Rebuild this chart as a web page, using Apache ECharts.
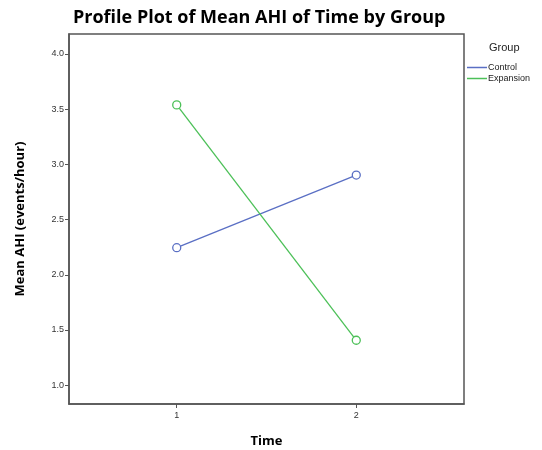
<!DOCTYPE html>
<html>
<head>
<meta charset="utf-8">
<script src="https://cdn.jsdelivr.net/npm/echarts@6/dist/echarts.min.js"></script>
<style>html,body{margin:0;padding:0;background:#fff}#c{width:542px;height:450px}</style>
</head>
<body>
<div id="c"></div>
<script>
// Mean AHI by time point, one line per group
const timePoints = [1, 2];
const groups = ['Control', 'Expansion'];
const controlMeans = [2.245, 2.903];
const expansionMeans = [3.538, 1.407];
const yTicks = [1.0, 1.5, 2.0, 2.5, 3.0, 3.5, 4.0];
const colors = ['#5a6fc4', '#4cc058'];

const chart = echarts.init(document.getElementById('c'));
const seriesData = [controlMeans, expansionMeans];

chart.setOption({
  animation: false,
  title: [
    {
      text: 'Profile Plot of Mean AHI of Time by Group',
      left: 68, top: 4,
      textStyle: { fontFamily: 'Open Sans', fontWeight: 'bold', fontSize: 18, color: '#000' }
    },
    {
      text: 'Group',
      left: 484, top: 37,
      textStyle: { fontFamily: 'Liberation Sans', fontWeight: 'normal', fontSize: 11, color: '#222' }
    }
  ],
  legend: {
    data: groups.map((g, i) => ({
      name: g, icon: 'rect',
      itemStyle: { color: colors[i], borderWidth: 0 }
    })),
    orient: 'vertical',
    left: 462, top: 58,
    itemWidth: 20, itemHeight: 1.5, itemGap: 2,
    textStyle: { fontFamily: 'Liberation Sans', fontSize: 9, color: '#222', padding: [0, 0, 0, -4] }
  },
  grid: {
    left: 69, right: 78, top: 34, bottom: 46,
    outerBoundsMode: 'none', containLabel: false,
    show: true, borderColor: '#555', borderWidth: 1.5, backgroundColor: 'transparent'
  },
  xAxis: {
    type: 'value', min: 0.4, max: 2.6,
    name: 'Time', nameLocation: 'middle', nameGap: 31,
    nameTextStyle: { fontFamily: 'Open Sans', fontWeight: 'bold', fontSize: 13, color: '#000' },
    axisLine: { show: true, lineStyle: { color: '#555', width: 1.5 } },
    axisTick: { show: true, length: 4, customValues: timePoints, lineStyle: { color: '#555' } },
    axisLabel: { customValues: timePoints, fontFamily: 'Liberation Sans', fontSize: 9, color: '#333', margin: 7 },
    splitLine: { show: false }
  },
  yAxis: {
    type: 'value', min: 0.83, max: 4.18,
    name: 'Mean AHI (events/hour)', nameLocation: 'middle', nameGap: 42,
    nameTextStyle: { fontFamily: 'Open Sans', fontWeight: 'bold', fontSize: 13, color: '#000' },
    axisLine: { show: true, lineStyle: { color: '#555', width: 1.5 } },
    axisTick: { show: true, length: 4, customValues: yTicks, lineStyle: { color: '#555' } },
    axisLabel: {
      customValues: yTicks, fontFamily: 'Liberation Sans', fontSize: 9, color: '#333', margin: 5,
      formatter: v => v.toFixed(1)
    },
    splitLine: { show: false }
  },
  series: groups.map((g, i) => ({
    name: g,
    type: 'line',
    data: timePoints.map((t, j) => [t, seriesData[i][j]]),
    symbol: 'circle', symbolSize: 8,
    itemStyle: { color: '#fff', borderColor: colors[i], borderWidth: 1.3 },
    lineStyle: { color: colors[i], width: 1.3 },
    color: colors[i]
  }))
});
</script>
</body>
</html>
